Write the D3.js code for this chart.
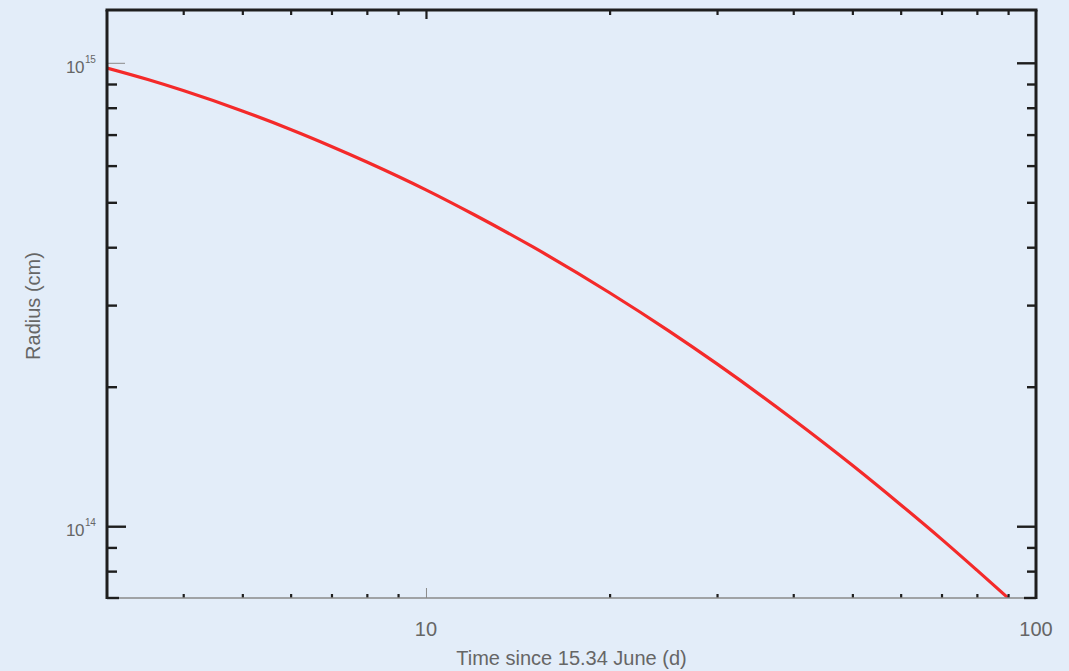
<!DOCTYPE html>
<html>
<head>
<meta charset="utf-8">
<script src="https://cdn.jsdelivr.net/npm/d3@7"></script>
<style>
  html, body { margin: 0; padding: 0; background: #e3edf9; }
  svg { display: block; font-family: "Liberation Sans", Arial, Helvetica, sans-serif; }
</style>
</head>
<body>
<svg id="chart" width="1069" height="671"></svg>
<script>
// Shock radius versus time since 15.34 June
const timeDays = [3, 3.5, 4, 5, 6, 7, 8, 10, 12, 15, 20, 25, 30, 40, 50, 60, 70, 80, 89.6];
const radiusCm = [9.74e14, 9.20e14, 8.71e14, 7.87e14, 7.18e14, 6.60e14, 6.11e14, 5.32e14, 4.70e14,
                  4.00e14, 3.19e14, 2.64e14, 2.24e14, 1.70e14, 1.354e14, 1.113e14, 9.38e13, 8.04e13, 7.04e13];

// Axis ranges and ticks
const xDomain = [3, 100];
const yDomain = [7e13, 1.3e15];
const xMajorTicks = [10, 100];
const xMinorTicks = [4, 5, 6, 7, 8, 9, 20, 30, 40, 50, 60, 70, 80, 90];
const yMajorTicks = [1e14, 1e15];
const yMinorTicks = [8e13, 9e13, 2e14, 3e14, 4e14, 5e14, 6e14, 7e14, 8e14, 9e14];
const xTickLabels = ["10", "100"];
const yTickLabels = [["10", "14"], ["10", "15"]];
const xTitle = "Time since 15.34 June (d)";
const yTitle = "Radius (cm)";

const plot = { left: 107, right: 1036, top: 10, bottom: 598 };
const ink = "#1e1e1e";
const labelGrey = "#666666";

const svg = d3.select("#chart");

const x = d3.scaleLog().domain(xDomain).range([plot.left, plot.right]);
const y = d3.scaleLog().domain(yDomain).range([plot.bottom, plot.top]);

// Curve, clipped to the frame
svg.append("clipPath").attr("id", "frame")
  .append("rect")
  .attr("x", plot.left).attr("y", plot.top)
  .attr("width", plot.right - plot.left).attr("height", plot.bottom - plot.top);

const pts = timeDays.map((t, i) => [t, radiusCm[i]]);
const line = d3.line()
  .x(d => x(d[0]))
  .y(d => y(d[1]))
  .curve(d3.curveMonotoneX);

svg.append("path")
  .datum(pts)
  .attr("clip-path", "url(#frame)")
  .attr("fill", "none")
  .attr("stroke", "#f42a2a")
  .attr("stroke-width", 3.2)
  .attr("stroke-linecap", "round")
  .attr("d", line);

// helper: axis group with custom stroke
function axisGroup(axis, tx, ty, color, width) {
  const g = svg.append("g").attr("transform", `translate(${tx},${ty})`).call(axis);
  g.select(".domain").remove();
  g.selectAll(".tick line").attr("stroke", color).attr("stroke-width", width);
  g.selectAll(".tick text").remove();
  return g;
}

// Bottom axis: thin grey baseline, small black minor ticks, thin grey major tick
axisGroup(d3.axisBottom(x).tickValues(xMinorTicks).tickSize(-4).tickSizeOuter(0), 0, plot.bottom, ink, 2.2);
axisGroup(d3.axisBottom(x).tickValues([10]).tickSize(-10).tickSizeOuter(0), 0, plot.bottom, "#8a8a8a", 1);

// Top axis: heavy line with short minor ticks
axisGroup(d3.axisTop(x).tickValues(xMinorTicks).tickSize(-5).tickSizeOuter(0), 0, plot.top, ink, 2.2);
axisGroup(d3.axisTop(x).tickValues([10]).tickSize(-9).tickSizeOuter(0), 0, plot.top, ink, 2.2);

// Left axis
axisGroup(d3.axisLeft(y).tickValues(yMinorTicks).tickSize(-10).tickSizeOuter(0), plot.left, 0, ink, 2.4);
axisGroup(d3.axisLeft(y).tickValues([1e14]).tickSize(-19).tickSizeOuter(0), plot.left, 0, ink, 2.4);
axisGroup(d3.axisLeft(y).tickValues([1e15]).tickSize(-18).tickSizeOuter(0), plot.left, 0, "#8a8a8a", 1);

// Right axis
axisGroup(d3.axisRight(y).tickValues(yMinorTicks).tickSize(-9).tickSizeOuter(0), plot.right, 0, ink, 2.4);
axisGroup(d3.axisRight(y).tickValues(yMajorTicks).tickSize(-19).tickSizeOuter(0), plot.right, 0, ink, 2.4);

// Frame lines
svg.append("line")
  .attr("x1", plot.left).attr("x2", plot.right)
  .attr("y1", plot.bottom).attr("y2", plot.bottom)
  .attr("stroke", "#8a8a8a").attr("stroke-width", 1.6);
svg.append("line")
  .attr("x1", plot.left - 1.5).attr("x2", plot.right + 1.5)
  .attr("y1", plot.top).attr("y2", plot.top)
  .attr("stroke", ink).attr("stroke-width", 3);
svg.append("line")
  .attr("x1", plot.left).attr("x2", plot.left)
  .attr("y1", plot.top).attr("y2", plot.bottom + 1)
  .attr("stroke", ink).attr("stroke-width", 3);
svg.append("line")
  .attr("x1", plot.right).attr("x2", plot.right)
  .attr("y1", plot.top).attr("y2", plot.bottom + 1)
  .attr("stroke", ink).attr("stroke-width", 3);
svg.append("line")
  .attr("x1", plot.left).attr("x2", plot.left + 12)
  .attr("y1", plot.bottom).attr("y2", plot.bottom)
  .attr("stroke", ink).attr("stroke-width", 2.4);
svg.append("line")
  .attr("x1", plot.right - 12).attr("x2", plot.right)
  .attr("y1", plot.bottom).attr("y2", plot.bottom)
  .attr("stroke", ink).attr("stroke-width", 2.4);

// X tick labels
svg.append("g").selectAll("text")
  .data(xMajorTicks)
  .join("text")
  .attr("x", d => x(d))
  .attr("y", plot.bottom + 38)
  .attr("text-anchor", "middle")
  .attr("fill", labelGrey)
  .attr("font-size", 20)
  .text((d, i) => xTickLabels[i]);

// Y tick labels with superscript exponents
const yl = svg.append("g").selectAll("g")
  .data(yMajorTicks)
  .join("g")
  .attr("transform", d => `translate(84,${y(d)})`);
yl.append("text")
  .attr("x", 0).attr("y", 10)
  .attr("text-anchor", "end")
  .attr("fill", labelGrey)
  .attr("font-size", 17)
  .attr("letter-spacing", -0.5)
  .text((d, i) => yTickLabels[i][0]);
yl.append("text")
  .attr("x", 1).attr("y", 0)
  .attr("fill", labelGrey)
  .attr("font-size", 10)
  .attr("letter-spacing", -0.3)
  .text((d, i) => yTickLabels[i][1]);

// Axis titles
svg.append("text")
  .attr("x", (plot.left + plot.right) / 2)
  .attr("y", 665)
  .attr("text-anchor", "middle")
  .attr("fill", labelGrey)
  .attr("font-size", 20)
  .text(xTitle);

svg.append("text")
  .attr("transform", `translate(40,306) rotate(-90)`)
  .attr("text-anchor", "middle")
  .attr("fill", labelGrey)
  .attr("font-size", 20)
  .text(yTitle);
</script>
</body>
</html>
